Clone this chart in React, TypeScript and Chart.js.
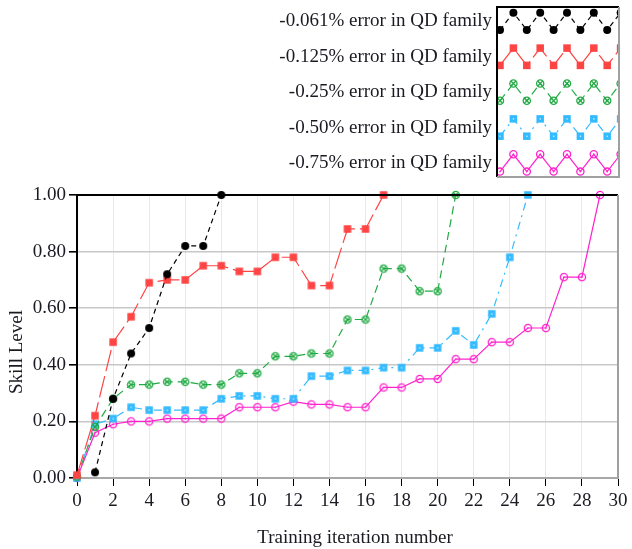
import React, { useEffect, useRef } from "react";
import { Chart, registerables } from "chart.js";

Chart.register(...registerables);

// Training iterations (x) and skill level per QD-family error setting (y)
const iterations = [0, 1, 2, 3, 4, 5, 6, 7, 8, 9, 10, 11, 12, 13, 14, 15, 16, 17, 18, 19, 20, 21, 22, 23, 24, 25, 26, 27, 28, 29, 30];
const xTicks = [0, 2, 4, 6, 8, 10, 12, 14, 16, 18, 20, 22, 24, 26, 28, 30];
const yTicks = [0, 0.2, 0.4, 0.6, 0.8, 1.0];

const seriesLabels = [
  "-0.061% error in QD family",
  "-0.125% error in QD family",
  "-0.25% error in QD family",
  "-0.50% error in QD family",
  "-0.75% error in QD family",
];

const err061 = [null, 0.02, 0.28, 0.44, 0.53, 0.72, 0.82, 0.82, 1.0];
const err125 = [0.01, 0.22, 0.48, 0.57, 0.69, 0.7, 0.7, 0.75, 0.75, 0.73, 0.73, 0.78, 0.78, 0.68, 0.68, 0.88, 0.88, 1.0];
const err25 = [0.005, 0.18, 0.28, 0.33, 0.33, 0.34, 0.34, 0.33, 0.33, 0.37, 0.37, 0.43, 0.43, 0.44, 0.44, 0.56, 0.56, 0.74, 0.74, 0.66, 0.66, 1.0];
const err50 = [0.0, 0.19, 0.21, 0.25, 0.24, 0.24, 0.24, 0.24, 0.28, 0.29, 0.29, 0.28, 0.28, 0.36, 0.36, 0.38, 0.38, 0.39, 0.39, 0.46, 0.46, 0.52, 0.47, 0.58, 0.78, 1.0];
const err75 = [0.0, 0.16, 0.19, 0.2, 0.2, 0.21, 0.21, 0.21, 0.21, 0.25, 0.25, 0.25, 0.27, 0.26, 0.26, 0.25, 0.25, 0.32, 0.32, 0.35, 0.35, 0.42, 0.42, 0.48, 0.48, 0.53, 0.53, 0.71, 0.71, 1.0];

const FONT = "'Liberation Serif', 'Times New Roman', serif";
const TEXT = "#1a1a22";

const COLORS = ["#000000", "#ff4444", "#22aa44", "#33bbff", "#ff22cc"];
const DASHES = [[5, 4], [22, 5], [8, 5], [8, 5, 2, 5], []];

type MarkerKind = "dot" | "square" | "xcircle" | "sqdot" | "ocircle";
const MARKERS: MarkerKind[] = ["dot", "square", "xcircle", "sqdot", "ocircle"];

function paintMarker(ctx: CanvasRenderingContext2D, kind: MarkerKind, color: string, x: number, y: number) {
  ctx.save();
  ctx.setLineDash([]);
  ctx.lineWidth = 1.3;
  ctx.strokeStyle = color;
  ctx.fillStyle = color;
  if (kind === "dot") {
    ctx.beginPath();
    ctx.arc(x, y, 4, 0, Math.PI * 2);
    ctx.fill();
  } else if (kind === "square") {
    ctx.fillRect(x - 3.75, y - 3.75, 7.5, 7.5);
  } else if (kind === "sqdot") {
    ctx.fillRect(x - 3.75, y - 3.75, 7.5, 7.5);
    ctx.fillStyle = "#d8f2ff";
    ctx.fillRect(x - 0.6, y - 0.6, 1.3, 1.3);
  } else if (kind === "xcircle") {
    ctx.beginPath();
    ctx.arc(x, y, 3.6, 0, Math.PI * 2);
    ctx.stroke();
    const d = 2.5;
    ctx.beginPath();
    ctx.moveTo(x - d, y - d);
    ctx.lineTo(x + d, y + d);
    ctx.moveTo(x + d, y - d);
    ctx.lineTo(x - d, y + d);
    ctx.stroke();
  } else {
    ctx.beginPath();
    ctx.arc(x, y, 3.6, 0, Math.PI * 2);
    ctx.stroke();
    ctx.fillRect(x - 0.7, y - 0.7, 1.4, 1.4);
  }
  ctx.restore();
}

function markerImage(kind: MarkerKind, color: string): HTMLCanvasElement {
  const c = document.createElement("canvas");
  c.width = 12;
  c.height = 12;
  const ctx = c.getContext("2d")!;
  paintMarker(ctx, kind, color, 6, 6);
  return c;
}

function toPoints(vals: (number | null)[]) {
  return iterations
    .map((it, i) => ({ x: it, y: vals[i] }))
    .filter((p) => p.y !== null && p.y !== undefined) as { x: number; y: number }[];
}

const decorPlugin = {
  id: "decor",
  afterDraw(chart: any) {
    const ctx: CanvasRenderingContext2D = chart.ctx;
    const a = chart.chartArea;
    ctx.save();
    // frame: top black, right grey
    ctx.strokeStyle = "#000";
    ctx.lineWidth = 2;
    ctx.beginPath();
    ctx.moveTo(a.left, a.top);
    ctx.lineTo(a.right, a.top);
    ctx.stroke();
    ctx.strokeStyle = "#a0a0a0";
    ctx.beginPath();
    ctx.moveTo(a.right, a.top);
    ctx.lineTo(a.right, a.bottom);
    ctx.stroke();

    // axis titles
    ctx.fillStyle = TEXT;
    ctx.font = `19px ${FONT}`;
    ctx.textAlign = "center";
    ctx.textBaseline = "middle";
    ctx.fillText("Training iteration number", 355, 538);
    ctx.save();
    ctx.translate(17, 352);
    ctx.rotate(-Math.PI / 2);
    ctx.fillText("Skill Level", 0, 0);
    ctx.restore();

    // legend: labels + zigzag samples in a box
    const bx = 497, by = 7, bw = 122, bh = 170;
    ctx.textAlign = "right";
    ctx.textBaseline = "middle";
    chart.data.datasets.forEach((ds: any, i: number) => {
      const hi = 12.7 + i * 35.4;
      const lo = hi + 17.3;
      ctx.fillStyle = TEXT;
      ctx.fillText(ds.label, 492, (hi + lo) / 2);
      ctx.save();
      ctx.beginPath();
      ctx.rect(bx, by, bw, bh);
      ctx.clip();
      const pts: [number, number][] = [];
      for (let k = 0; k < 11; k++) pts.push([500 + k * 13.4, k % 2 === 0 ? lo : hi]);
      ctx.strokeStyle = COLORS[i];
      ctx.lineWidth = 1.2;
      ctx.setLineDash(DASHES[i]);
      ctx.beginPath();
      pts.forEach(([px, py], k) => (k === 0 ? ctx.moveTo(px, py) : ctx.lineTo(px, py)));
      ctx.stroke();
      pts.forEach(([px, py]) => paintMarker(ctx, MARKERS[i], COLORS[i], px, py));
      ctx.restore();
    });
    ctx.setLineDash([]);
    ctx.lineWidth = 2;
    ctx.strokeStyle = "#000";
    ctx.beginPath();
    ctx.moveTo(bx, by + bh);
    ctx.lineTo(bx, by);
    ctx.lineTo(bx + bw, by);
    ctx.stroke();
    ctx.strokeStyle = "#a0a0a0";
    ctx.beginPath();
    ctx.moveTo(bx + bw, by);
    ctx.lineTo(bx + bw, by + bh);
    ctx.lineTo(bx, by + bh);
    ctx.stroke();
    ctx.restore();
  },
};

export default function App() {
  const ref = useRef<HTMLCanvasElement | null>(null);

  useEffect(() => {
    if (!ref.current) return;
    const values = [err061, err125, err25, err50, err75];
    const chart = new Chart(ref.current, {
      type: "line",
      data: {
        datasets: values.map((vals, i) => ({
          label: seriesLabels[i],
          data: toPoints(vals),
          borderColor: COLORS[i],
          backgroundColor: COLORS[i],
          borderWidth: 1.2,
          borderDash: DASHES[i],
          pointStyle: markerImage(MARKERS[i], COLORS[i]),
          pointRadius: 5,
          tension: 0,
          clip: false as any,
        })),
      },
      options: {
        animation: false,
        responsive: false,
        maintainAspectRatio: false,
        layout: { padding: { top: 195, right: 14, left: 0, bottom: 0 } },
        plugins: {
          legend: { display: false },
          tooltip: { enabled: false },
        },
        scales: {
          x: {
            type: "linear",
            min: 0,
            max: 30,
            afterFit: (s: any) => {
              s.height = 71;
            },
            afterBuildTicks: (s: any) => {
              s.ticks = xTicks.map((v) => ({ value: v }));
            },
            ticks: {
              color: TEXT,
              font: { family: FONT, size: 19 },
              padding: 4,
              maxRotation: 0,
              autoSkip: false,
            },
            grid: { color: "#e8e8e8", lineWidth: 1, tickColor: "#000", tickLength: 8 },
            border: { color: "#a8a8a8", width: 2 },
          },
          y: {
            type: "linear",
            min: 0,
            max: 1,
            afterFit: (s: any) => {
              s.width = 77;
            },
            afterBuildTicks: (s: any) => {
              s.ticks = yTicks.map((v) => ({ value: v }));
            },
            ticks: {
              color: TEXT,
              font: { family: FONT, size: 19 },
              padding: 3,
              callback: (v: any) => Number(v).toFixed(2),
            },
            grid: { color: "#c8c8c8", lineWidth: 1.6, tickColor: "#000", tickLength: 8 },
            border: { color: "#000", width: 2 },
          },
        },
      },
      plugins: [decorPlugin],
    });
    return () => chart.destroy();
  }, []);

  return (
    <div style={{ position: "absolute", left: 0, top: 0, width: 632, height: 549, background: "#fff" }}>
      <canvas ref={ref} width={632} height={549} style={{ display: "block", width: 632, height: 549 }} />
    </div>
  );
}
